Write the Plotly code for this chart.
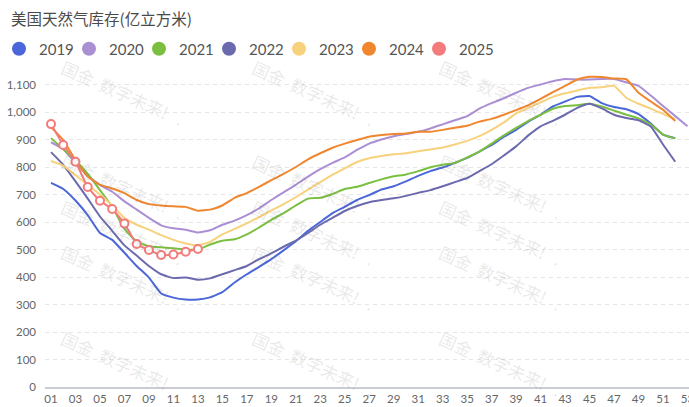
import plotly.graph_objects as go

# ---------------- data (亿立方米, weekly) ----------------
title_text = "美国天然气库存(亿立方米)"
years = ["2019", "2020", "2021", "2022", "2023", "2024", "2025"]
colors = ["#4a66d8", "#ab8fd3", "#7bbf40", "#6b6aae", "#f8d17c", "#f0862e", "#f47b7b"]
tick_weeks = list(range(1, 54, 2))
tick_labels = [f"{w:02d}" for w in tick_weeks]

s2019 = [742, 720, 678, 625, 560, 535, 488, 440, 398, 340, 325, 318, 318, 326, 345, 380,
         410, 437, 465, 497, 530, 568, 600, 632, 655, 680, 698, 718, 730, 748, 768, 785,
         798, 815, 833, 856, 880, 910, 935, 965, 990, 1020, 1038, 1055, 1058, 1032, 1018,
         1010, 992, 958, 918, 905]
s2020 = [890, 865, 815, 770, 735, 710, 675, 645, 615, 588, 577, 572, 562, 570, 590, 605,
         625, 650, 680, 708, 735, 765, 792, 815, 835, 862, 885, 900, 912, 920, 928, 940,
         955, 970, 985, 1012, 1032, 1050, 1070, 1088, 1100, 1112, 1120, 1118, 1118, 1120,
         1120, 1108, 1095, 1060, 1022, 985, 948]
s2021 = [905, 865, 825, 775, 716, 656, 575, 528, 512, 508, 505, 500, 500, 518, 532, 537,
         555, 580, 608, 632, 660, 685, 688, 702, 720, 728, 742, 755, 766, 773, 785, 799,
         808, 815, 835, 856, 885, 915, 942, 968, 990, 1012, 1022, 1025, 1030, 1020, 1005,
         990, 977, 955, 918, 904]
s2022 = [854, 808, 748, 685, 620, 568, 515, 478, 440, 410, 396, 398, 390, 395, 410, 425,
         440, 465, 486, 510, 532, 560, 590, 615, 640, 658, 672, 680, 686, 695, 706, 716,
         730, 745, 760, 785, 810, 842, 875, 915, 948, 968, 990, 1015, 1030, 1013, 990,
         978, 970, 947, 882, 819]
s2023 = [822, 805, 770, 735, 700, 660, 615, 590, 572, 552, 535, 522, 515, 528, 555, 575,
         595, 618, 642, 665, 690, 718, 745, 772, 795, 818, 832, 840, 846, 850, 857, 864,
         871, 882, 895, 912, 935, 962, 995, 1015, 1035, 1055, 1068, 1078, 1088, 1090, 1095,
         1052, 1030, 1012, 993, 973]
s2024 = [945, 898, 825, 765, 735, 722, 705, 680, 665, 660, 657, 655, 641, 645, 660, 688,
         705, 728, 752, 775, 800, 828, 850, 870, 885, 898, 910, 916, 920, 922, 928, 928,
         935, 943, 950, 965, 975, 990, 1007, 1025, 1048, 1072, 1095, 1118, 1128, 1127,
         1122, 1119, 1070, 1038, 1008, 967]
s2025 = [956, 880, 819, 727, 677, 647, 595, 520, 498, 480, 482, 492, 502]

series = [s2019, s2020, s2021, s2022, s2023, s2024, s2025]

# ---------------- layout geometry ----------------
W, H = 689, 407
ML, MR, MT, MB = 45, 0, 75, 20
PW, PH = W - ML - MR, H - MT - MB


def px_x(px):
    return (px - ML) / PW


def px_y(py):
    return (H - MB - py) / PH


fig = go.Figure()

for name, col, vals in zip(years, colors, series):
    weeks = list(range(1, len(vals) + 1))
    is_last = name == "2025"
    fig.add_trace(go.Scatter(
        x=weeks, y=vals, name=name, showlegend=False,
        mode="lines+markers" if is_last else "lines",
        line=dict(color=col, width=2, shape="spline", smoothing=0.4),
        marker=dict(size=8, color="white", line=dict(color=col, width=2)) if is_last else None,
        hoverinfo="skip",
    ))

# legend entries (circle symbols)
for name, col in zip(years, colors):
    fig.add_trace(go.Scatter(
        x=[None], y=[None], name=name, mode="markers",
        marker=dict(size=14, color=col, symbol="circle"),
        showlegend=True,
    ))
# invisible spacer entry so the last legend label is not clipped
fig.add_trace(go.Scatter(
    x=[None], y=[None], name=" ", mode="markers",
    marker=dict(size=1, color="rgba(0,0,0,0)"), showlegend=True,
))

# watermarks
wm_cols = [55, 313, 568]
wm_rows = [52, 146, 232, 318, 404]
for cx in wm_cols:
    for cy in wm_rows:
        fig.add_annotation(
            x=px_x(cx), y=px_y(cy), xref="paper", yref="paper",
            text="国金  数字未来!   .", showarrow=False, textangle=24,
            font=dict(family="Noto Sans CJK SC", size=17, color="rgba(120,120,120,0.17)"),
        )

fig.update_layout(
    width=W, height=H,
    margin=dict(l=ML, r=MR, t=MT, b=MB, pad=0, autoexpand=False),
    paper_bgcolor="white", plot_bgcolor="white",
    title=dict(text=title_text, x=11 / W, y=1 - 20 / H, xref="container", yref="container",
               xanchor="left", yanchor="middle", automargin=False,
               font=dict(family="Noto Sans CJK SC", size=15.5, color="#4a4a4a")),
    legend=dict(orientation="h", x=px_x(-1), y=px_y(49), xanchor="left", yanchor="middle",
                font=dict(family="Lato", size=15, color="#555"),
                entrywidth=25, entrywidthmode="pixels", itemwidth=30,
                bgcolor="rgba(0,0,0,0)", tracegroupgap=0),
    showlegend=True,
)

fig.update_xaxes(
    range=[1 - 6 / 12.24, 1 + (W - 51) / 12.24],
    tickmode="array", tickvals=tick_weeks, ticktext=tick_labels,
    showgrid=False, zeroline=False, automargin=False,
    showline=True, linecolor="#c9ccd3", linewidth=1.5,
    ticklabeloverflow="allow",
    ticks="", tickfont=dict(family="Lato", size=11.5, color="#666"),
)
fig.update_yaxes(
    range=[0, (H - MB - MT) / 0.275],
    tickmode="linear", tick0=0, dtick=100, tickformat=",",
    showgrid=True, gridcolor="#e6e6e6", griddash="4px,4px", gridwidth=1,
    zeroline=False, showline=False, ticks="", automargin=False,
    ticklabelstandoff=8,
    tickfont=dict(family="Lato", size=11.5, color="#666"),
)

fig.write_html("out.html", config={"displayModeBar": False},
               post_script="document.body.style.margin='0';document.body.style.padding='0';")
